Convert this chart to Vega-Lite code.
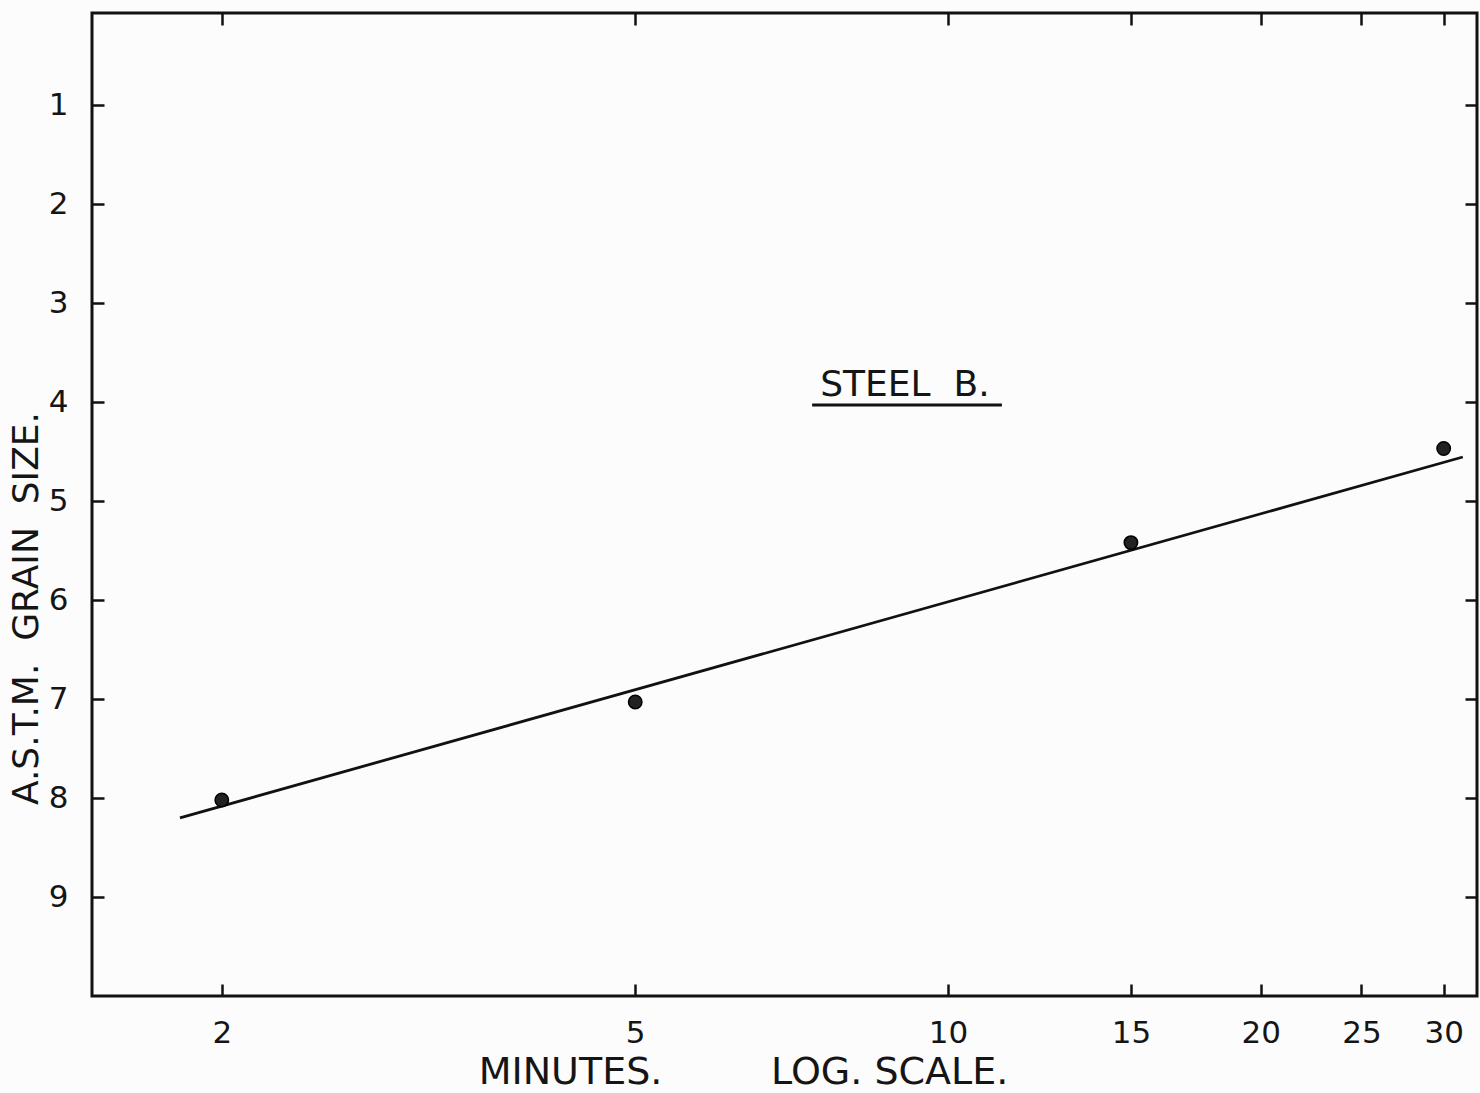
{
  "$schema": "https://vega.github.io/schema/vega-lite/v6.json",
  "width": 1385,
  "height": 983,
  "autosize": {"type": "none"},
  "padding": {"left": 92, "top": 13, "right": 3, "bottom": 97},
  "background": "#fcfcfc",
  "config": {
    "view": {"stroke": "#111111", "strokeWidth": 3},
    "axis": {
      "domain": false,
      "grid": false,
      "tickColor": "#111111",
      "tickWidth": 2.5,
      "tickSize": -12,
      "labelFont": "DejaVu Sans",
      "labelFontSize": 31,
      "labelColor": "#151515",
      "titleFont": "DejaVu Sans",
      "titleFontWeight": "normal",
      "titleColor": "#151515"
    }
  },
  "datasets": {
    "fit": [
      {"minutes": 1.823, "grain": 8.2},
      {"minutes": 31.3, "grain": 4.555}
    ],
    "obs": [
      {"minutes": 2, "grain": 8.02},
      {"minutes": 5, "grain": 7.03},
      {"minutes": 15, "grain": 5.42},
      {"minutes": 30, "grain": 4.47}
    ],
    "label": [
      {"minutes": 9.09, "grain": 3.83, "text": "STEEL\u00a0\u00a0B."}
    ],
    "underline": [
      {"minutes": 7.4, "minutes2": 11.27, "grain": 4.03}
    ]
  },
  "layer": [
    {
      "data": {"name": "fit"},
      "mark": {"type": "line", "color": "#111111", "strokeWidth": 2.8},
      "encoding": {
        "x": {
          "field": "minutes",
          "type": "quantitative",
          "scale": {"type": "log", "domain": [1.5, 32.3], "nice": false, "zero": false},
          "axis": {
            "orient": "bottom",
            "values": [2, 5, 10, 15, 20, 25, 30],
            "labelPadding": 34,
            "title": "MINUTES.\u00a0\u00a0\u00a0\u00a0\u00a0\u00a0\u00a0\u00a0\u00a0LOG.\u00a0SCALE.",
            "titleFontSize": 38,
            "titleX": 651,
            "titleY": 87,
            "titleAlign": "center",
            "titleBaseline": "alphabetic"
          }
        },
        "y": {
          "field": "grain",
          "type": "quantitative",
          "scale": {"domain": [0.07, 10], "reverse": true, "nice": false, "zero": false},
          "axis": {
            "orient": "left",
            "values": [1, 2, 3, 4, 5, 6, 7, 8, 9],
            "labelPadding": 36,
            "title": "A.S.T.M.\u00a0\u00a0GRAIN\u00a0\u00a0SIZE.",
            "titleFontSize": 36,
            "titleAngle": -90,
            "titleX": -55,
            "titleY": 595,
            "titleAlign": "center",
            "titleBaseline": "alphabetic"
          }
        }
      }
    },
    {
      "data": {"name": "obs"},
      "mark": {"type": "point", "filled": true, "color": "#222222", "stroke": "#000000", "strokeWidth": 1.5, "size": 180, "opacity": 1},
      "encoding": {
        "x": {
          "field": "minutes",
          "type": "quantitative",
          "axis": {"orient": "top", "values": [2, 5, 10, 15, 20, 25, 30], "labels": false, "title": null}
        },
        "y": {
          "field": "grain",
          "type": "quantitative",
          "axis": {"orient": "right", "values": [1, 2, 3, 4, 5, 6, 7, 8, 9], "labels": false, "title": null}
        }
      }
    },
    {
      "data": {"name": "label"},
      "mark": {"type": "text", "font": "DejaVu Sans", "fontSize": 36, "color": "#151515", "align": "center", "baseline": "middle"},
      "encoding": {
        "x": {"field": "minutes", "type": "quantitative", "axis": null},
        "y": {"field": "grain", "type": "quantitative", "axis": null},
        "text": {"field": "text"}
      }
    },
    {
      "data": {"name": "underline"},
      "mark": {"type": "rule", "color": "#111111", "strokeWidth": 3},
      "encoding": {
        "x": {"field": "minutes", "type": "quantitative", "axis": null},
        "x2": {"field": "minutes2"},
        "y": {"field": "grain", "type": "quantitative", "axis": null}
      }
    }
  ]
}
